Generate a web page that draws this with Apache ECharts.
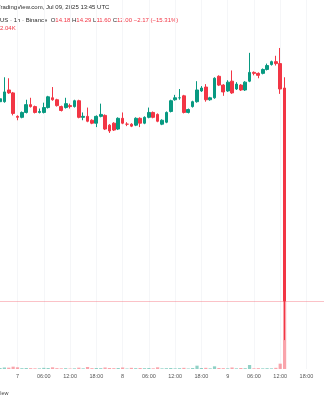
<!DOCTYPE html>
<html><head><meta charset="utf-8">
<script src="https://cdn.jsdelivr.net/npm/echarts@6/dist/echarts.min.js"></script>
<style>html,body{margin:0;padding:0;background:#fff}#c{width:324px;height:400px}</style>
</head><body><div id="c"></div>
<script>
// hourly candles starting Jul 6 20:00 UTC (75 slots to Jul 9 22:00)
const categories = [];
for (let i = 0, d = 6, h = 20; i < 75; i++) {
  categories.push(d + '|' + String(h).padStart(2, '0') + ':00');
  h++; if (h === 24) { h = 0; d++; }
}
const openP  = [14.04,14.04,14.16,14.13,13.89,13.88,13.93,14.01,13.99,13.93,13.93,13.98,14.08,14.06,13.99,13.98,14.00,13.99,14.05,13.88,13.89,13.85,13.82,13.89,13.90,13.80,13.82,13.76,13.87,13.81,13.81,13.80,13.87,13.82,13.88,13.93,13.91,13.81,13.83,13.94,14.06,14.08,14.10,13.93,13.99,14.04,14.15,14.19,14.06,14.08,14.30,14.21,14.15,14.25,14.17,14.21,14.16,14.25,14.34,14.33,14.33,14.37,14.42,14.45,14.43,14.18];
const closeP = [14.07,14.14,14.13,13.92,13.88,13.93,14.01,13.99,13.93,13.94,13.98,14.09,14.06,14.00,13.95,14.02,13.99,14.05,13.88,13.89,13.84,13.82,13.89,13.91,13.76,13.74,13.75,13.87,13.82,13.81,13.79,13.87,13.82,13.88,13.93,13.88,13.84,13.85,13.93,14.05,14.08,14.08,13.93,13.96,14.04,14.16,14.18,14.06,14.08,14.28,14.21,14.14,14.24,14.13,14.22,14.16,14.24,14.34,14.33,14.31,14.37,14.41,14.45,14.43,14.17,12.00];
const lowP   = [14.03,14.03,14.12,13.90,13.85,13.87,13.92,13.98,13.92,13.92,13.92,13.97,14.05,13.99,13.94,13.97,13.97,13.98,13.87,13.85,13.83,13.81,13.78,13.88,13.75,13.72,13.74,13.75,13.81,13.79,13.78,13.79,13.78,13.81,13.87,13.87,13.83,13.80,13.82,13.93,14.05,14.06,13.92,13.92,13.98,14.03,14.14,14.04,14.05,14.07,14.20,14.10,14.14,14.12,14.16,14.15,14.15,14.24,14.31,14.28,14.32,14.36,14.41,14.41,14.12,11.60];
const highP  = [14.09,14.29,14.28,14.14,13.90,13.94,14.06,14.08,14.00,13.97,14.03,14.10,14.19,14.07,14.00,14.08,14.02,14.06,14.06,13.93,13.98,13.86,13.90,14.02,13.91,13.81,13.83,13.88,13.93,13.83,13.82,13.88,13.88,13.89,13.98,13.94,13.92,13.86,13.94,14.06,14.11,14.17,14.11,13.97,14.05,14.25,14.20,14.22,14.09,14.29,14.31,14.22,14.26,14.36,14.24,14.22,14.25,14.54,14.35,14.34,14.38,14.43,14.46,14.51,14.59,14.29];
const volume = [30,45,40,70,50,25,30,25,20,20,35,30,50,25,20,25,15,20,40,20,60,25,30,25,45,30,25,30,45,15,35,25,30,25,30,20,50,20,25,30,20,25,35,15,30,100,30,35,20,80,30,25,20,45,20,30,25,120,20,25,20,25,20,35,160,2040];
const lastPrice = 12.00;

const UP = '#089981', DOWN = '#F23645';
const FONT = 'Liberation Sans, Arial, sans-serif';
const hourOf = v => parseInt(v.split('|')[1], 10);
const showTick = (i, v) => hourOf(v) % 6 === 0;

const candleData = openP.map((o, i) => [o, closeP[i], lowP[i], highP[i]]);
const volData = volume.map((v, i) => ({
  value: v,
  itemStyle: { color: closeP[i] >= openP[i] ? 'rgba(8,153,129,0.45)' : 'rgba(242,54,69,0.45)' }
}));

const chart = echarts.init(document.getElementById('c'), null, { renderer: 'canvas' });
chart.setOption({
  animation: false,
  backgroundColor: '#ffffff',
  grid: { left: -0.3, right: -1.6, top: 0, bottom: 31 },
  xAxis: {
    type: 'category', data: categories, boundaryGap: false,
    axisLine: { show: false }, axisTick: { show: false },
    axisLabel: {
      interval: showTick, margin: 4, fontSize: 5.5, color: '#555', fontFamily: FONT,
      formatter: v => { const p = v.split('|'); return p[1] === '00:00' ? p[0] : p[1]; }
    },
    splitLine: { show: true, interval: showTick, lineStyle: { color: '#f5f6f8', width: 1 } }
  },
  yAxis: [
    { type: 'value', min: 11.304, max: 15.081, axisLine: { show: false }, axisTick: { show: false },
      axisLabel: { show: false }, splitLine: { show: false } },
    { type: 'value', min: 0, max: 11070, axisLine: { show: false }, axisTick: { show: false },
      axisLabel: { show: false }, splitLine: { show: false } }
  ],
  series: [
    { type: 'bar', yAxisIndex: 1, data: volData, barWidth: 3.2, z: 1, silent: true },
    { type: 'candlestick', data: candleData, barWidth: 3.2, z: 3,
      itemStyle: { color: UP, color0: DOWN, borderColor: UP, borderColor0: DOWN, borderWidth: 1 },
      markLine: { silent: true, symbol: ['none', 'none'], label: { show: false },
        lineStyle: { color: '#F23645', opacity: 0.3, type: 'solid', width: 1 },
        emphasis: { disabled: true },
        data: [{ yAxis: lastPrice }] } }
  ],
  graphic: [
    { type: 'text', x: -3, y: 7, style: { text: 'TradingView.com, Jul 09, 2025 13:45 UTC', fontSize: 6, fill: '#2a2a2a', fontFamily: FONT, verticalAlign: 'middle' } },
    { type: 'text', x: 0, y: 20, style: {
      text: '{d|US · 1h · Binance  }{d|O}{r|14.18} {d|H}{r|14.29} {d|L}{r|11.60} {d|C}{r|12.00} {r|−2.17 (−15.31%)}',
      verticalAlign: 'middle', fontFamily: FONT, fontSize: 6,
      rich: { d: { fill: '#2a2a2a', fontSize: 6, fontFamily: FONT }, r: { fill: DOWN, fontSize: 6, fontFamily: FONT } } } },
    { type: 'text', x: 0, y: 28, style: { text: '2.04K', fontSize: 6, fill: DOWN, fontFamily: FONT, verticalAlign: 'middle' } },
    { type: 'text', x: 8.5, y: 393, style: { text: 'TradingView', fontSize: 5.5, fill: '#444', fontFamily: FONT, align: 'right', verticalAlign: 'middle' } }
  ]
});
</script></body></html>
